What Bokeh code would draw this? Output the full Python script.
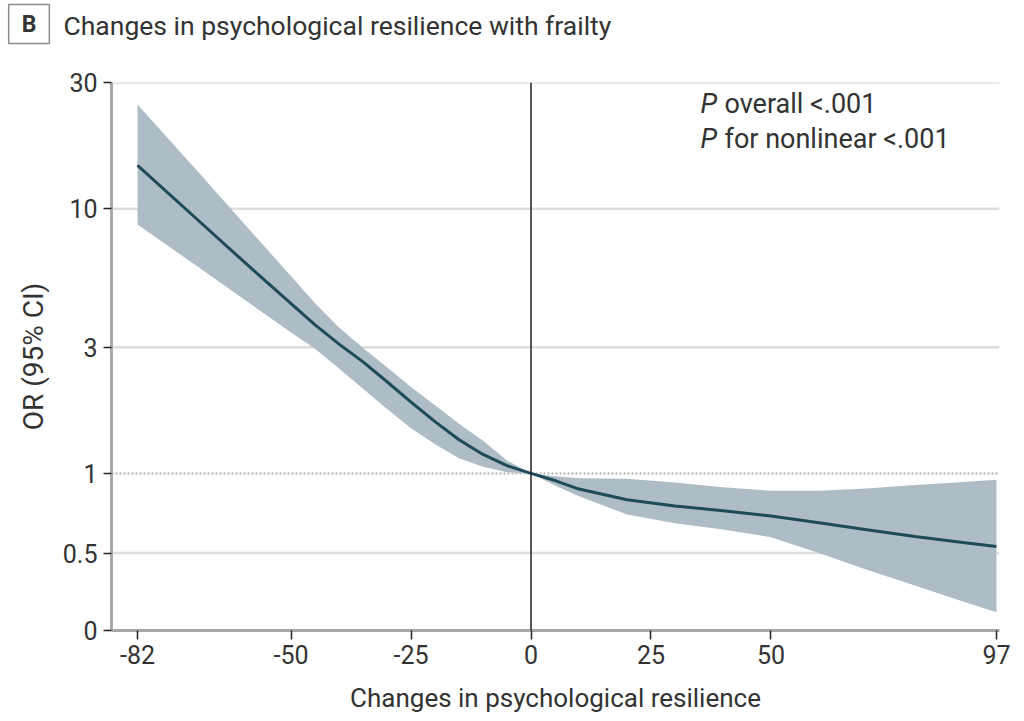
from bokeh.plotting import figure
from bokeh.models import Range1d, FixedTicker, Label, Span, ColumnDataSource
from bokeh.embed import file_html
from bokeh.resources import INLINE

# ---- data ----
x_vals = [-82, -70, -60, -50, -45, -40, -35, -30, -25, -20, -15, -10, -5, 0,
          5, 10, 20, 30, 40, 50, 60, 70, 80, 90, 97]
or_est = [14.6, 9.27, 6.35, 4.38, 3.64, 3.08, 2.64, 2.22, 1.86, 1.57, 1.34, 1.18, 1.07, 1.0,
          0.94, 0.873, 0.795, 0.754, 0.723, 0.691, 0.651, 0.613, 0.578, 0.548, 0.530]
ci_upper = [24.8, 14.2, 8.87, 5.56, 4.40, 3.56, 2.98, 2.52, 2.12, 1.81, 1.54, 1.33, 1.12, 1.0,
            0.975, 0.958, 0.955, 0.925, 0.886, 0.860, 0.860, 0.878, 0.905, 0.928, 0.947]
ci_lower = [8.72, 6.14, 4.57, 3.41, 2.96, 2.49, 2.09, 1.75, 1.48, 1.29, 1.14, 1.06, 1.01, 1.0,
            0.90, 0.82, 0.70, 0.648, 0.614, 0.574, 0.50, 0.433, 0.377, 0.328, 0.299]

x_ticks = [-82, -50, -25, 0, 25, 50, 97]
x_tick_labels = ["-82", "-50", "-25", "0", "25", "50", "97"]
y_ticks = [0.255, 0.5, 1, 3, 10, 30]
y_tick_labels = ["0", "0.5", "1", "3", "10", "30"]
grid_levels = [0.5, 3, 10, 30]

title_text = "Changes in psychological resilience with frailty"
panel_letter = "B"
x_title = "Changes in psychological resilience"
y_title = "OR (95% CI)"
p_lines = ["overall <.001", "for nonlinear <.001"]

FONT = "Roboto"
TXT = "#333333"

src = ColumnDataSource(dict(x=x_vals, y=or_est, lo=ci_lower, hi=ci_upper))

p = figure(width=1024, height=721, output_backend="svg", toolbar_location=None,
           y_axis_type="log", x_range=Range1d(-87.42, 97.63), y_range=Range1d(0.255, 30),
           min_border_left=111, min_border_right=25, min_border_top=82, min_border_bottom=91)
p.outline_line_color = None
p.background_fill_color = "white"
p.border_fill_color = "white"
p.xgrid.visible = False
p.ygrid.visible = False

# horizontal grid lines
for g in grid_levels:
    p.add_layout(Span(location=g, dimension="width", line_color="#dedede", line_width=2.5, level="underlay"))
# reference line at OR = 1
p.add_layout(Span(location=1, dimension="width", line_color="#b0b0b0", line_width=2,
                  line_dash="2 2", level="underlay"))

p.varea(x="x", y1="lo", y2="hi", source=src, fill_color="#adbcc5", fill_alpha=1.0)
p.line(x="x", y="y", source=src, line_color="#1d4b58", line_width=3)

# vertical line at 0
p.add_layout(Span(location=0, dimension="height", line_color="#222222", line_width=1.5))

# axes
xa = p.xaxis[0]
xa.ticker = FixedTicker(ticks=x_ticks)
xa.major_label_overrides = {t: l for t, l in zip(x_ticks, x_tick_labels)}
xa.axis_line_color = "#a8a8a8"
xa.axis_line_width = 3
xa.major_tick_line_color = "#222222"
xa.major_tick_line_width = 1.5
xa.major_tick_out = 9
xa.major_tick_in = 0
xa.minor_tick_line_color = None
xa.major_label_text_font = FONT
xa.major_label_text_font_size = "25px"
xa.major_label_text_color = TXT
xa.major_label_standoff = 5
xa.axis_label = x_title
xa.axis_label_text_font = FONT
xa.axis_label_text_font_size = "26px"
xa.axis_label_text_font_style = "normal"
xa.axis_label_text_color = TXT
xa.axis_label_standoff = 16

ya = p.yaxis[0]
ya.ticker = FixedTicker(ticks=y_ticks)
ya.major_label_overrides = {t: l for t, l in zip(y_ticks, y_tick_labels)}
ya.axis_line_color = "#a8a8a8"
ya.axis_line_width = 3
ya.major_tick_line_color = "#222222"
ya.major_tick_line_width = 1.5
ya.major_tick_out = 8
ya.major_tick_in = 0
ya.minor_tick_line_color = None
ya.major_label_text_font = FONT
ya.major_label_text_font_size = "25px"
ya.major_label_text_color = TXT
ya.major_label_standoff = 6
ya.axis_label = y_title
ya.axis_label_text_font = FONT
ya.axis_label_text_font_size = "28px"
ya.axis_label_text_font_style = "normal"
ya.axis_label_text_color = TXT
ya.axis_label_standoff = 10

# title and boxed panel letter, placed in the top side panels (not clipped to the frame)
FL, FT, FB = 111, 82, 630
p.add_layout(Label(x=63 - FL, y=FT - 25, x_units="screen", y_units="screen", text=title_text,
                   text_font=FONT, text_font_size="26.5px", text_color=TXT,
                   text_align="left", text_baseline="middle"), "above")
p.add_layout(Label(x=28.5 - FL, y=FT - 31 - 23.5, x_units="screen", y_units="screen", text=panel_letter,
                   text_font=FONT, text_font_style="bold", text_font_size="23px", text_color=TXT,
                   text_align="center", text_baseline="middle",
                   border_line_color="#8c8c8c", border_line_width=1.5,
                   background_fill_color="white", padding=(13, 6)), "above")

# P-value annotations (inside the frame)
for i, t in enumerate(p_lines):
    yy = FB - (103 + 35 * i)
    p.add_layout(Label(x=700 - FL, y=yy, x_units="screen", y_units="screen", text="P",
                       text_font=FONT, text_font_style="italic", text_font_size="27px",
                       text_color=TXT, text_align="left", text_baseline="middle"))
    p.add_layout(Label(x=724 - FL, y=yy, x_units="screen", y_units="screen", text=t,
                       text_font=FONT, text_font_size="27px",
                       text_color=TXT, text_align="left", text_baseline="middle"))

open("out.html", "w").write(file_html(p, INLINE))
